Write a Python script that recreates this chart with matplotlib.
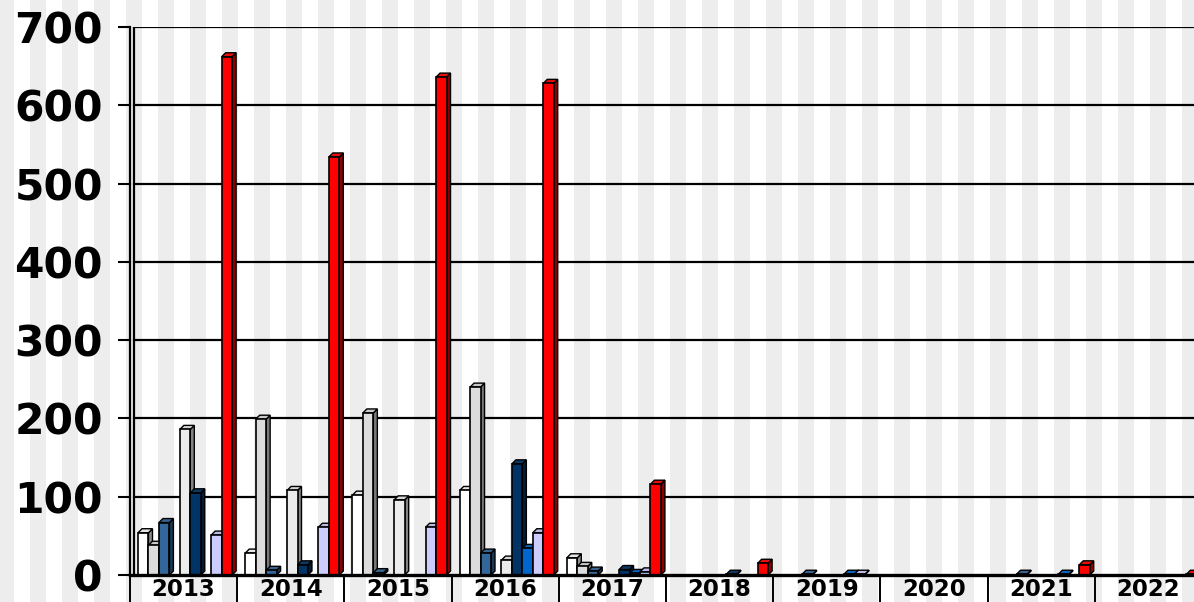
import numpy as np
import matplotlib
matplotlib.use('Agg')
import matplotlib.pyplot as plt
import matplotlib.colors as mcolors

years = ['2013', '2014', '2015', '2016', '2017', '2018', '2019', '2020', '2021', '2022']

white_vals    = [54, 28, 102, 108, 22, 0, 0, 0, 0, 0]
lgray_vals    = [38, 199, 207, 240, 11, 0, 0, 0, 0, 0]
steel_vals    = [67, 6, 3, 28, 5, 0, 1, 0, 1, 0]
sky_vals      = [0, 0, 0, 0, 0, 0, 0, 0, 0, 0]
light_vals    = [186, 108, 96, 19, 0, 0, 0, 0, 0, 0]
navy_vals     = [105, 13, 0, 142, 7, 1, 0, 0, 0, 0]
blue_vals     = [0, 0, 0, 34, 2, 0, 1, 0, 1, 0]
lavender_vals = [51, 61, 61, 54, 4, 0, 1, 0, 0, 0]
red_vals      = [662, 534, 636, 628, 116, 15, 0, 0, 13, 1]

series = [white_vals, lgray_vals, steel_vals, sky_vals, light_vals,
          navy_vals, blue_vals, lavender_vals, red_vals]
colors = ['#ffffff', '#dcdcdc', '#336699', '#99ccff', '#ececec',
          '#003366', '#0066cc', '#ccccff', '#ff0000']

yticks = [0, 100, 200, 300, 400, 500, 600, 700]

W, H = 1194, 602
fig = plt.figure(figsize=(W / 100, H / 100), dpi=100)

# striped background over the whole picture
bg = fig.add_axes([0, 0, 1, 1], zorder=-10)
bg.set_xlim(0, W)
bg.set_ylim(0, H)
bg.set_facecolor('#f4f4f4')
for x0 in range(30 - 32, W, 32):
    bg.axvspan(x0, x0 + 16, color='#ededed', lw=0)
bg.axis('off')

left, bottom = 130 / W, 27 / H
ax = fig.add_axes([left, bottom, 1072 / W, 548 / H])
ax.set_facecolor('none')
ax.set_xlim(0, len(years))
ax.set_ylim(0, 700)

# depth of the fake 3d bars, in data units
dx = 4 / 107.2
dy = 4 / (548 / 700)

for v in yticks[1:]:
    ax.axhline(v, xmin=dx / len(years), color='black', lw=1.6, zorder=1)
ax.axvline(dx, color='black', lw=1.6, zorder=1)

slot = 0.0975
off = 0.075
z = 2
for i in range(len(years)):
    for j, vals in enumerate(series):
        h = vals[i]
        if h <= 0:
            continue
        x = i + off + j * slot
        c = np.array(mcolors.to_rgb(colors[j]))
        side = c * 0.55
        top = np.minimum(c * 0.85 + 0.05, 1)
        ax.fill([x + slot, x + slot + dx, x + slot + dx, x + slot],
                [0, dy, h + dy, h], color=side, ec='black', lw=1.0, zorder=z)
        ax.fill([x, x + dx, x + slot + dx, x + slot],
                [h, h + dy, h + dy, h], color=top, ec='black', lw=1.0, zorder=z)
        ax.bar(x, h, width=slot, align='edge', color=colors[j],
               edgecolor='black', lw=1.2, zorder=z + 0.5)
        z += 1

for s in ['top', 'right']:
    ax.spines[s].set_visible(False)
ax.spines['left'].set_linewidth(1.6)
ax.spines['bottom'].set_linewidth(2.4)
ax.spines['bottom'].set_zorder(z + 5)

ax.set_yticks(yticks)
ax.set_yticklabels([str(v) for v in yticks], fontsize=30.5, fontweight='bold')
ax.tick_params(axis='y', direction='out', length=8.6, width=1.5, pad=11)

ax.set_xticks(np.arange(len(years) + 1))
ax.set_xticklabels([])
ax.tick_params(axis='x', which='major', direction='out', length=30, width=1.4)
ax.set_xticks(np.arange(len(years)) + 0.5, minor=True)
ax.set_xticklabels(years, minor=True, fontsize=16.5, fontweight='bold')
ax.tick_params(axis='x', which='minor', length=0, pad=2.5)

fig.savefig('out.png', dpi=100)
